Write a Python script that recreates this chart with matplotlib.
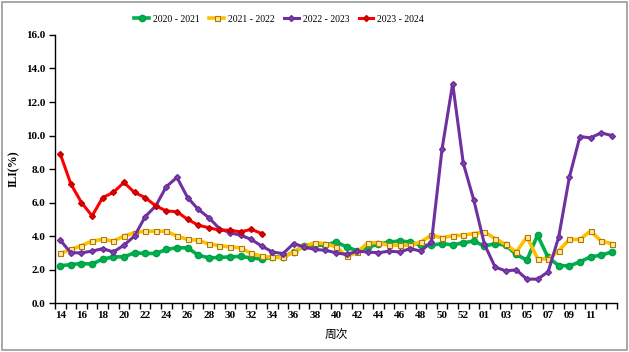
import matplotlib.pyplot as plt
import numpy as np

weeks = [str(w) for w in range(14, 54)] + ["%02d" % w for w in range(1, 14)]

ili_2020 = [2.22, 2.30, 2.36, 2.33, 2.62, 2.76, 2.76, 3.00, 2.96, 2.96,
            3.20, 3.30, 3.30, 2.86, 2.70, 2.72, 2.76, 2.78, 2.70, 2.62,
            2.75, 2.75, 3.05, 3.40, 3.45, 3.45, 3.65, 3.35, 3.12, 3.35,
            3.50, 3.65, 3.70, 3.65, 3.45, 3.45, 3.55, 3.47, 3.60, 3.70,
            3.40, 3.55, 3.45, 2.90, 2.56, 4.05, 2.72, 2.24, 2.22, 2.46,
            2.76, 2.86, 3.05]
ili_2021 = [2.96, 3.20, 3.43, 3.70, 3.80, 3.70, 4.00, 4.20, 4.28, 4.30,
            4.28, 4.00, 3.80, 3.75, 3.53, 3.43, 3.35, 3.30, 2.96, 2.80,
            2.72, 2.72, 3.05, 3.40, 3.60, 3.55, 3.35, 2.80, 3.02, 3.60,
            3.60, 3.45, 3.45, 3.45, 3.65, 4.05, 3.90, 4.02, 4.05, 4.15,
            4.25, 3.85, 3.50, 3.05, 3.95, 2.66, 2.62, 3.12, 3.80, 3.80,
            4.30, 3.70, 3.55]
ili_2022 = [3.75, 3.00, 3.00, 3.10, 3.25, 3.05, 3.45, 4.00, 5.15, 5.80,
            6.95, 7.50, 6.30, 5.60, 5.10, 4.45, 4.20, 4.05, 3.80, 3.40,
            3.05, 2.95, 3.55, 3.35, 3.20, 3.15, 3.00, 2.90, 3.10, 3.05,
            3.00, 3.10, 3.05, 3.25, 3.10, 3.65, 9.20, 13.10, 8.35, 6.13,
            3.50, 2.15, 1.92, 1.98, 1.43, 1.43, 1.86, 3.95, 7.50, 9.94,
            9.86, 10.16, 10.00]
ili_2023 = [8.90, 7.10, 6.00, 5.20, 6.30, 6.60, 7.20, 6.60, 6.30, 5.80,
            5.50, 5.45, 5.00, 4.65, 4.50, 4.35, 4.35, 4.25, 4.40, 4.15]

seasons = ["2020 - 2021", "2021 - 2022", "2022 - 2023", "2023 - 2024"]

plt.rcParams['font.family'] = ['Liberation Serif', 'Noto Sans CJK SC']

fig = plt.figure(figsize=(6.29, 3.52), dpi=100)
ax = fig.add_axes([0.0874, 0.139, 0.8936, 0.7616])

x = np.arange(len(weeks))
ax.plot(x[:len(ili_2020)], ili_2020, color="#00B050", lw=2.6, marker="o",
        ms=4.5, mfc="#00B050", mec="#00A040", label=seasons[0])
ax.plot(x[:len(ili_2021)], ili_2021, color="#FFC000", lw=2.6, marker="s",
        ms=3.6, mfc="#FFE9A0", mec="#B07A00", mew=0.8, label=seasons[1])
ax.plot(x[:len(ili_2022)], ili_2022, color="#7030A0", lw=2.2, marker="D",
        ms=3, mfc="#8040B0", mec="#6A2D9A", label=seasons[2])
ax.plot(x[:len(ili_2023)], ili_2023, color="#FF0000", lw=2.2, marker="D",
        ms=3, mfc="#E00000", mec="#C00000", label=seasons[3])

ax.set_xlim(-0.5, len(weeks) - 0.5)
ax.set_ylim(0, 16)
ax.set_yticks(np.arange(0, 17, 2))
ax.set_yticklabels(["%.1f" % v for v in np.arange(0, 17, 2)],
                   fontsize=8, fontweight="bold")
# labels every second week, the last one shown is week 11
ax.set_xticks(x[:51:2])
ax.set_xticklabels(weeks[:51:2], fontsize=8, fontweight="bold")
ax.set_xticks(np.arange(-0.5, len(weeks), 1), minor=True)
ax.tick_params(axis="x", which="major", length=0, pad=6)
ax.tick_params(axis="x", which="minor", length=4, direction="out", width=1)
ax.tick_params(axis="y", length=4, direction="out", width=1, pad=3)

for side in ["top", "right"]:
    ax.spines[side].set_visible(False)
for side in ["left", "bottom"]:
    ax.spines[side].set_linewidth(1.0)

ax.set_ylabel("ILI(%)", fontsize=8.5, fontweight="bold", labelpad=4)
ax.set_xlabel("周次", fontsize=8.5, family=["Noto Sans CJK SC"], labelpad=6)

fig.legend(loc="center", bbox_to_anchor=(0.444, 0.946), ncol=4, frameon=False,
           fontsize=7, handlelength=1.5, columnspacing=1.0, handletextpad=0.4)

# grey frame around the whole picture
fig.patches.append(plt.Rectangle((0.003, 0.005), 0.994, 0.99, transform=fig.transFigure,
                                 fill=False, edgecolor="#9a9a9a", lw=1.2))

plt.savefig("out.png", dpi=100)
